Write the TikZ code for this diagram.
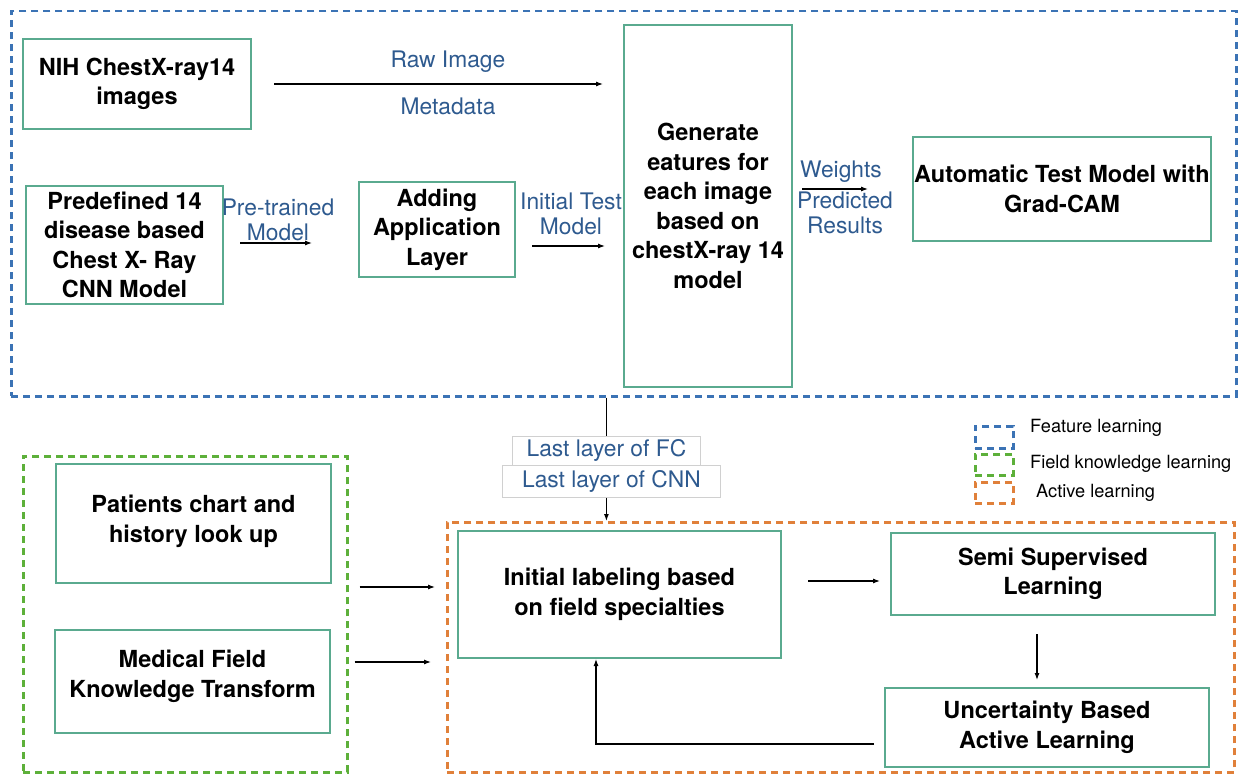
\documentclass[tikz,border=0pt]{standalone}
\usepackage{fontspec}
\setmainfont{TeX Gyre Heros}
\usetikzlibrary{arrows.meta}
\definecolor{boxgreen}{HTML}{5AAA8F}
\definecolor{dblue}{HTML}{3B73B5}
\definecolor{dgreen}{HTML}{5DB03A}
\definecolor{dorange}{HTML}{E0803A}
\definecolor{lblue}{HTML}{2E5A8F}
\definecolor{lgray}{HTML}{D0D0D0}
\tikzset{
 box/.style={draw=boxgreen, line width=2pt, align=center, font=\fontsize{23.5}{29.5}\selectfont\bfseries, anchor=north west, inner sep=0pt},
 grp/.style={line width=2.5pt, dash pattern=on 7pt off 5pt, anchor=north west, inner sep=0pt},
 lab/.style={text=lblue, font=\fontsize{22.8}{25}\selectfont, align=center, inner sep=0pt},
 lbox/.style={draw=lgray, line width=0.8pt, text=lblue, font=\fontsize{22.8}{25}\selectfont, anchor=north west, inner sep=0pt},
 legtxt/.style={font=\fontsize{18.2}{20}\selectfont, anchor=west, inner sep=0pt},
 arr/.style={-{Latex[length=7pt,width=5pt]}, line width=1.1pt},
}
\begin{document}
\begin{tikzpicture}[x=1pt,y=-1pt]
\useasboundingbox (0,0) rectangle (1241,773);
% groups
\node[grp, draw=dblue, minimum width=1225pt, minimum height=385pt] (fg) at (10,10) {};
\node[grp, draw=dgreen, minimum width=324pt, minimum height=316pt] (fk) at (22,455) {};
\node[grp, draw=dorange, minimum width=787pt, minimum height=250pt] (al) at (446,521) {};
% boxes
\node[box, minimum width=228pt, minimum height=90pt] (nih) at (22,38) {NIH ChestX-ray14\\images};
\node[box, minimum width=197pt, minimum height=118pt] (pred) at (25,185) {Predefined 14\\disease based\\Chest X- Ray\\CNN Model};
\node[box, minimum width=156pt, minimum height=95pt] (add) at (358,181) {Adding\\Application\\Layer};
\node[box, minimum width=168pt, minimum height=362pt] (gen) at (623,24) {Generate\\eatures for\\each image\\based on\\chestX-ray 14\\model};
\node[box, minimum width=298pt, minimum height=104pt] (auto) at (912,136) {Automatic Test Model with\\Grad-CAM};
\node[box, minimum width=275pt, minimum height=119pt, text depth=10pt] (pat) at (55,463) {Patients chart and\\history look up};
\node[box, minimum width=275pt, minimum height=103pt, text depth=16pt] (med) at (54,629) {Medical Field\\Knowledge Transform};
\node[box, minimum width=323pt, minimum height=127pt] (init) at (457,530) {Initial labeling based\\on field specialties};
\node[box, minimum width=324pt, minimum height=82pt] (semi) at (890,532) {Semi Supervised\\Learning};
\node[box, minimum width=324pt, minimum height=79pt] (unc) at (884,687) {Uncertainty Based\\Active Learning};
% label box
\node[lbox, minimum width=218pt, minimum height=32pt] (lcnn) at (502,465) {Last layer of CNN};
\node[lbox, fill=white, minimum width=188pt, minimum height=29pt] (lfc) at (512,436) {Last layer of FC};
% legend
\node[grp, draw=dblue, minimum width=38pt, minimum height=22pt] (lg1) at (974,425) {};
\node[grp, draw=dgreen, minimum width=38pt, minimum height=21pt] (lg2) at (974,453) {};
\node[grp, draw=dorange, minimum width=38pt, minimum height=21pt] (lg3) at (974,481) {};
\node[legtxt] (lt1) at (1030,428) {Feature learning};
\node[legtxt] (lt2) at (1030,464) {Field knowledge learning};
\node[legtxt] (lt3) at (1036,493) {Active learning};
% top arrows
\draw[arr] ([xshift=22pt]nih.east) -- ([xshift=-20pt]gen.west |- nih.east);
\node[lab] (raw) at (448,62) {Raw Image};
\node[lab] (meta) at (448,106) {Metadata};
\draw[arr] ([xshift=16pt]pred.east |- 0,243) -- ([xshift=-46pt]add.west |- 0,243);
\node[lab] (ptm) at (278,220) {Pre-trained\\Model};
\draw[arr] ([xshift=16pt]add.east |- 0,246) -- ([xshift=-18pt]gen.west |- 0,246);
\node[lab] (itm) at (571,214) {Initial Test\\Model};
\draw[arr] ([xshift=9pt]gen.east |- auto.west) -- ([xshift=-44pt]auto.west);
\node[lab] (wts) at (841,172) {Weights};
\node[lab] (prr) at (845,213) {Predicted\\Results};
% middle connector
\draw[line width=1.1pt] (fg.south -| lfc.north) -- (lfc.north);
\draw[arr] (lcnn.south -| lfc.north) -- (al.north -| lfc.north);
% bottom arrows
\draw[arr] ([xshift=11pt]fk.east |- 0,587) -- ([xshift=-11pt]al.west |- 0,587);
\draw[arr] ([xshift=6pt]fk.east |- 0,662) -- ([xshift=-15pt]al.west |- 0,662);
\draw[arr] ([xshift=26pt]init.east |- 0,581) -- ([xshift=-10pt]semi.west |- 0,581);
\draw[arr] ([yshift=-18pt]semi.south -| 1037,0) -- ([yshift=7pt]unc.north -| 1037,0);
\draw[arr] ([xshift=-10pt]unc.west |- 0,744) -| (init.south -| 596,0);
\end{tikzpicture}
\end{document}
